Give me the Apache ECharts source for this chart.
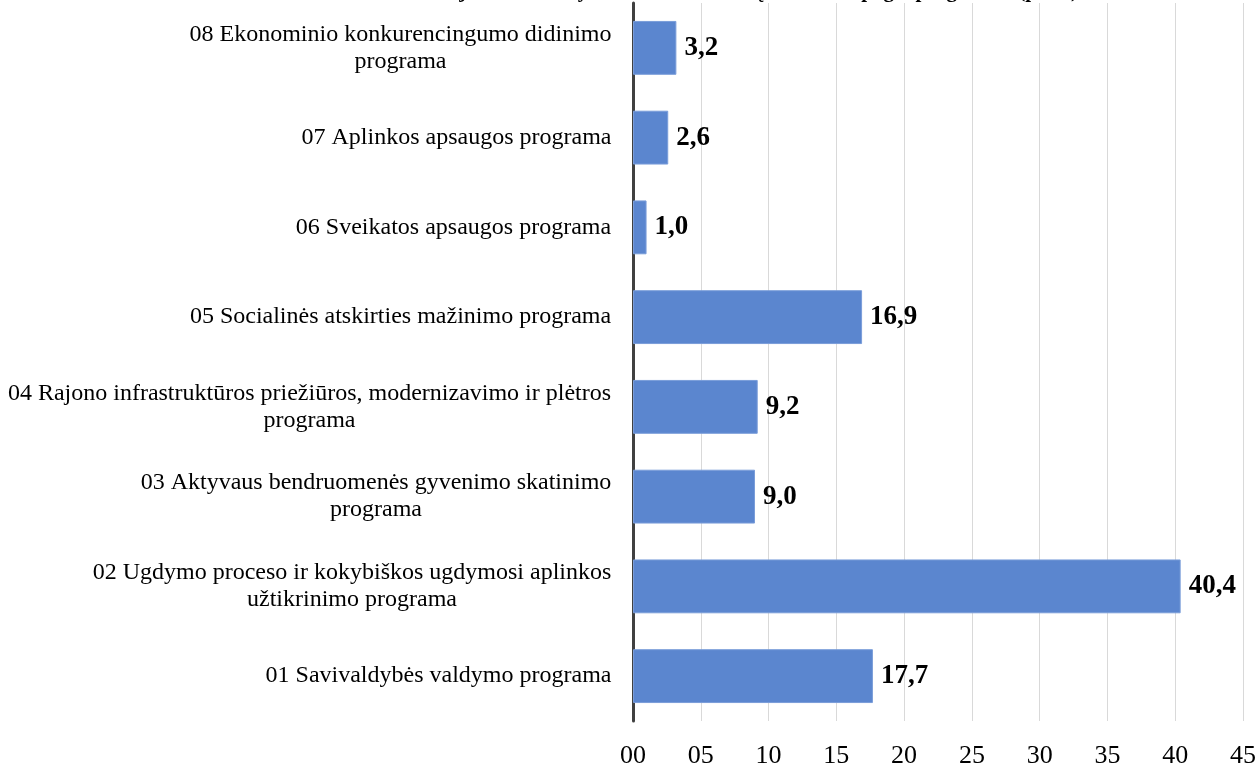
<!DOCTYPE html>
<html>
<head>
<meta charset="utf-8">
<script src="https://cdn.jsdelivr.net/npm/echarts@6/dist/echarts.min.js"></script>
<style>html,body{margin:0;padding:0;background:#fff}#c{width:1259px;height:769px}</style>
</head>
<body>
<div id="c"></div>
<script>
const titleText = 'Rajono savivaldybės biudžeto išlaidų struktūra pagal programas (proc.)';
const categories = [
  '01 Savivaldybės valdymo programa',
  '02 Ugdymo proceso ir kokybiškos ugdymosi aplinkos\nužtikrinimo programa',
  '03 Aktyvaus bendruomenės gyvenimo skatinimo\nprograma',
  '04 Rajono infrastruktūros priežiūros, modernizavimo ir plėtros\nprograma',
  '05 Socialinės atskirties mažinimo programa',
  '06 Sveikatos apsaugos programa',
  '07 Aplinkos apsaugos programa',
  '08 Ekonominio konkurencingumo didinimo\nprograma'
];
const values = [17.7, 40.4, 9.0, 9.2, 16.9, 1.0, 2.6, 3.2];
const axisMin = 0, axisMax = 45, axisStep = 5;

const FONT = '"Liberation Serif", "Times New Roman", serif';
const labelSize = 24;
const cv = document.createElement('canvas').getContext('2d');
cv.font = labelSize + 'px ' + FONT;
const rich = {};
categories.forEach((c, i) => {
  const w = Math.max(...c.split('\n').map(s => cv.measureText(s).width));
  rich['l' + i] = { width: Math.ceil(w) + 1, align: 'center', fontFamily: FONT, fontSize: labelSize, color: '#000', lineHeight: 27 };
});

const chart = echarts.init(document.getElementById('c'));
chart.setOption({
  animation: false,
  backgroundColor: '#fff',
  graphic: [{
    type: 'text', right: 1259 - 1078, top: -19,
    style: { text: titleText, font: 'bold 21px ' + FONT, fill: '#000' }
  }],
  grid: { left: 633, right: 13, top: 3, bottom: 42, containLabel: false },
  xAxis: {
    type: 'value', min: axisMin, max: axisMax, interval: axisStep,
    axisLine: { show: false }, axisTick: { show: false },
    splitLine: { show: true, lineStyle: { color: '#d9d9d9', width: 1 } },
    axisLabel: {
      margin: 22, fontFamily: FONT, fontSize: 26, color: '#000',
      formatter: v => String(v).padStart(2, '0')
    }
  },
  yAxis: {
    type: 'category', data: categories,
    axisLine: { show: true, lineStyle: { color: '#404040', width: 3 } },
    axisTick: { show: false },
    axisLabel: {
      margin: 21, align: 'right',
      formatter: (v, i) => v.split('\n').map(s => '{l' + i + '|' + s + '}').join('\n'),
      rich: rich
    }
  },
  series: [{
    type: 'bar', data: values, barWidth: '60%',
    itemStyle: { color: '#5b86cf', borderColor: '#7a9dd9', borderWidth: 1 },
    label: {
      show: true, position: 'right', distance: 8,
      fontFamily: FONT, fontWeight: 'bold', fontSize: 27, color: '#000',
      formatter: p => p.value.toFixed(1).replace('.', ',')
    }
  }]
});
</script>
</body>
</html>
